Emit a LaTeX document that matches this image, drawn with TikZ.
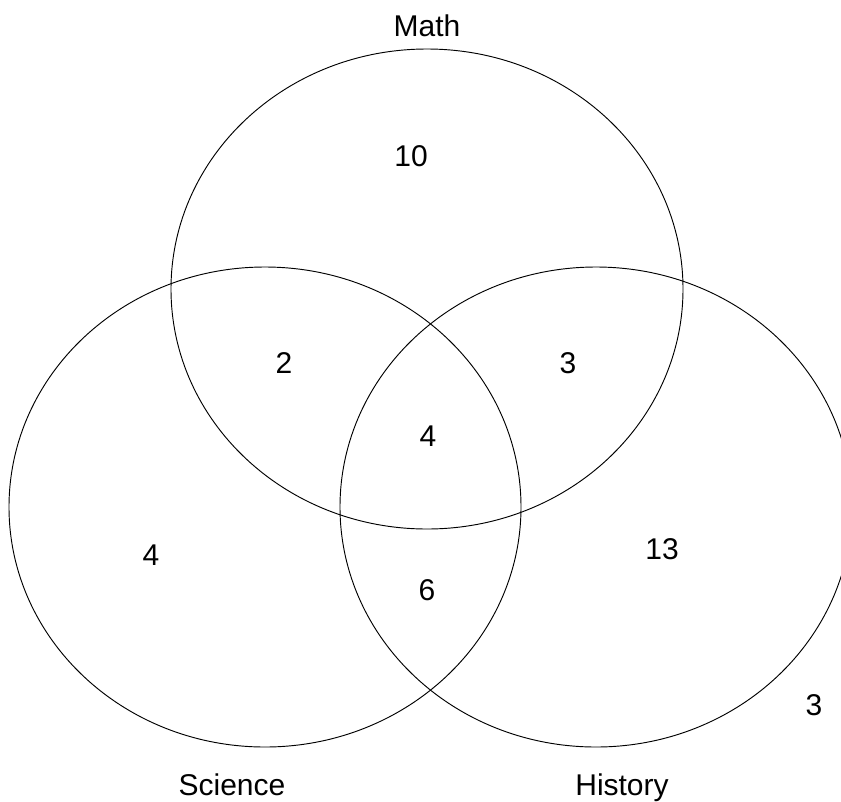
\documentclass[tikz,border=0pt]{standalone}
\usepackage{fontspec}
\setmainfont{Liberation Sans}
\begin{document}
\begin{tikzpicture}[x=0.03cm,y=-0.03cm,
  setline/.style={line width=0.8pt},
  lab/.style={font=\fontsize{25.6}{30}\selectfont, inner sep=0pt}]
\useasboundingbox (0,0) rectangle (841,801);
% the three sets
\draw[setline] (427,289) ellipse [x radius=256, y radius=240];
\draw[setline] (265,507) ellipse [x radius=256, y radius=240];
\draw[setline] (596,507) ellipse [x radius=256, y radius=240];
% set names
\node[lab, anchor=base] (math) at (427,36) {Math};
\node[lab, anchor=base] (science) at (232,795) {Science};
\node[lab, anchor=base] (history) at (622,795) {History};
% counts
\node[lab] (onlyM) at (411,156) {10};
\node[lab] (MS) at (284,363) {2};
\node[lab] (MH) at (568,363) {3};
\node[lab] (MSH) at (428,436) {4};
\node[lab] (onlyS) at (151,555) {4};
\node[lab] (SH) at (427,590) {6};
\node[lab] (onlyH) at (662,549) {13};
\node[lab] (none) at (814,705) {3};
\end{tikzpicture}
\end{document}
